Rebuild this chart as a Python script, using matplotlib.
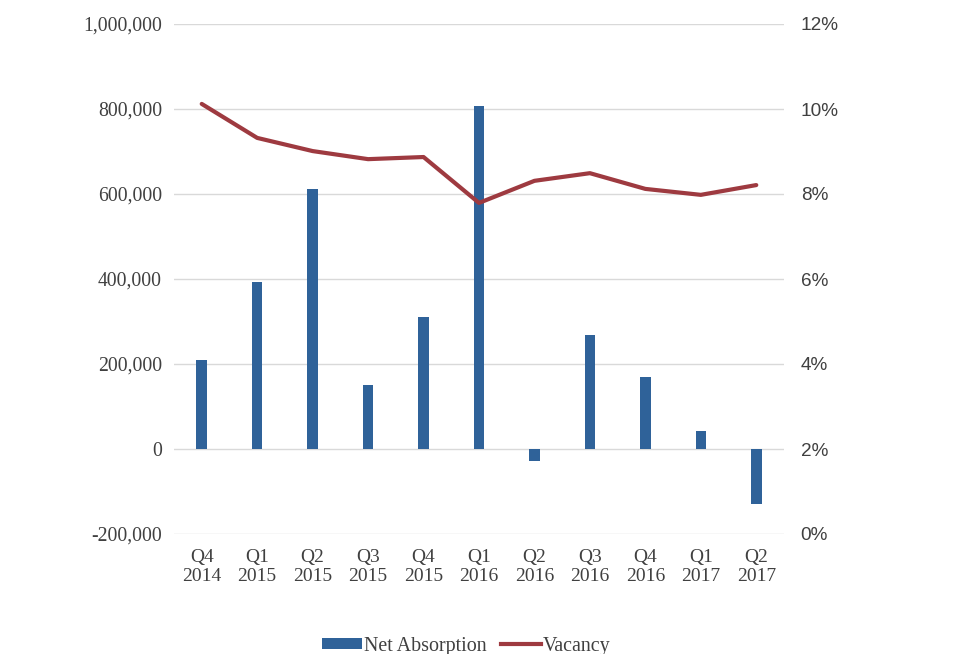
import matplotlib
matplotlib.use("Agg")
import matplotlib.pyplot as plt
from matplotlib.ticker import FuncFormatter
from matplotlib.lines import Line2D
from matplotlib.patches import Patch

categories = ["Q4\n2014", "Q1\n2015", "Q2\n2015", "Q3\n2015", "Q4\n2015", "Q1\n2016",
              "Q2\n2016", "Q3\n2016", "Q4\n2016", "Q1\n2017", "Q2\n2017"]
net_absorption = [210000, 393000, 612000, 151000, 311000, 807000,
                  -28000, 268000, 170000, 42000, -129000]
vacancy = [10.12, 9.32, 9.01, 8.82, 8.87, 7.79, 8.31, 8.49, 8.12, 7.98, 8.21]

bar_color = "#2F6299"
line_color = "#9E3A40"
grid_color = "#D9D9D9"
text_color = "#404040"

fig = plt.figure(figsize=(9.6, 6.54), dpi=100)
ax = fig.add_axes([174/960, 1-534/654, (784-174)/960, (534-24)/654])
x = list(range(len(categories)))
ax.bar(x, net_absorption, width=0.19, color=bar_color, zorder=3)
ax.set_xlim(-0.5, len(categories)-0.5)
ax.set_ylim(-200000, 1000000)
ax.set_yticks(range(-200000, 1000001, 200000))
ax.yaxis.set_major_formatter(FuncFormatter(lambda v, p: f"{int(v):,}"))
ax.grid(axis="y", color=grid_color, linewidth=1, zorder=0)
ax.set_xticks(x)
ax.set_xticklabels(categories, fontfamily="Liberation Serif", fontsize=14,
                   color=text_color, linespacing=1.12)
for lab in ax.get_yticklabels():
    lab.set_fontfamily("Liberation Serif")
    lab.set_fontsize(14.2)
    lab.set_color(text_color)
ax.tick_params(axis="both", length=0)
ax.tick_params(axis="y", pad=8.6)
ax.tick_params(axis="x", pad=11)
for s in ax.spines.values():
    s.set_visible(False)

ax2 = ax.twinx()
ax2.plot(x, vacancy, color=line_color, linewidth=3, zorder=4,
         solid_capstyle="round", solid_joinstyle="round")
ax2.set_ylim(0, 12)
ax2.set_yticks(range(0, 13, 2))
ax2.yaxis.set_major_formatter(FuncFormatter(lambda v, p: f"{int(v)}%"))
for lab in ax2.get_yticklabels():
    lab.set_fontfamily("Liberation Sans")
    lab.set_fontsize(13.7)
    lab.set_color(text_color)
ax2.tick_params(axis="y", length=0, pad=12)
for s in ax2.spines.values():
    s.set_visible(False)

handles = [Patch(facecolor=bar_color, edgecolor="none", label="Net Absorption"),
           Line2D([0], [0], color=line_color, linewidth=3, label="Vacancy")]
leg = fig.legend(handles=handles, loc="center", bbox_to_anchor=(466/960, 0.012),
                 ncol=2, frameon=False, handlelength=2.0, handleheight=0.5,
                 columnspacing=0.7, handletextpad=0.1,
                 prop={"family": "Liberation Serif", "size": 14.4})
for t in leg.get_texts():
    t.set_color(text_color)

fig.savefig("out.png", dpi=100)
